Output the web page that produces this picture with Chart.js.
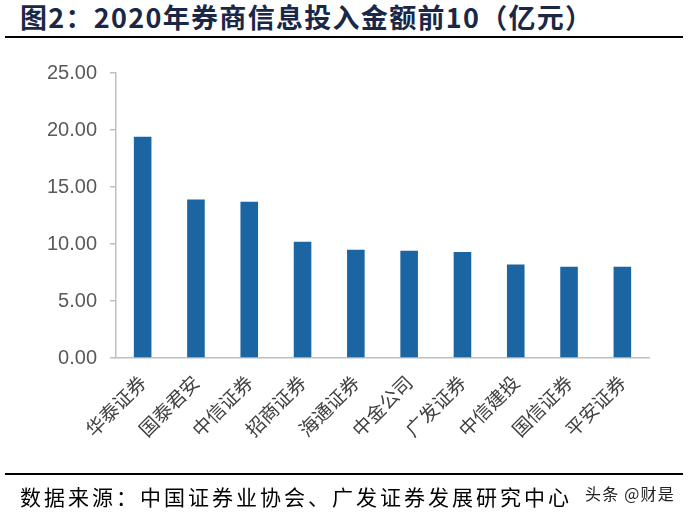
<!DOCTYPE html>
<html>
<head>
<meta charset="utf-8">
<script src="https://cdn.jsdelivr.net/npm/chart.js@4"></script>
<style>
  html, body { margin: 0; padding: 0; background: #fff; }
  body { width: 689px; height: 513px; position: relative; overflow: hidden; font-family: "Noto Sans CJK SC", sans-serif; }
  #title { position: absolute; left: 20px; top: -3px; font-size: 27px; font-weight: bold; color: #1a2747; white-space: nowrap; letter-spacing: 1.3px; }
  .rule { position: absolute; left: 5px; width: 678px; height: 2px; background: #000; }
  #source { position: absolute; left: 20px; top: 481px; font-size: 21px; color: #000; white-space: nowrap; letter-spacing: 3px; }
  #mark { position: absolute; left: 585px; top: 481px; font-size: 16px; color: #222; white-space: nowrap; letter-spacing: 1.2px; }
  #wrap { position: absolute; left: 0; top: 0; width: 689px; height: 513px; }
</style>
</head>
<body>
<div id="title">图2：2020年券商信息投入金额前10（亿元）</div>
<div class="rule" style="top:36px"></div>
<div id="wrap"><canvas id="c"></canvas></div>
<div class="rule" style="top:473px"></div>
<div id="source">数据来源：中国证券业协会、广发证券发展研究中心</div>
<div id="mark">头条 @财是</div>
<script>
const categories = ["华泰证券", "国泰君安", "中信证券", "招商证券", "海通证券", "中金公司", "广发证券", "中信建投", "国信证券", "平安证券"];
const investment = [19.4, 13.9, 13.7, 10.2, 9.5, 9.4, 9.3, 8.2, 8.0, 8.0];
const yTicks = [0, 5, 10, 15, 20, 25];

const axisGray = "#BFBFBF";
new Chart(document.getElementById("c"), {
  type: "bar",
  data: {
    labels: categories,
    datasets: [{
      data: investment,
      backgroundColor: "#1B65A3",
      borderWidth: 0,
      barPercentage: 0.33,
      categoryPercentage: 1.0
    }]
  },
  options: {
    responsive: true,
    maintainAspectRatio: false,
    animation: false,
    devicePixelRatio: 1,
    layout: { padding: { left: 0, right: 40, top: 73, bottom: 0 } },
    plugins: { legend: { display: false }, tooltip: { enabled: false }, title: { display: false } },
    scales: {
      x: {
        offset: true,
        grid: { display: false, drawTicks: false },
        border: { display: true, color: axisGray, width: 1.5 },
        ticks: {
          autoSkip: false, minRotation: 45, maxRotation: 45, padding: 13,
          color: "#404040",
          font: { family: "Noto Sans CJK SC", size: 19 }
        },
        afterFit: (s) => { s.height = 155; }
      },
      y: {
        min: 0, max: 25,
        afterBuildTicks: (s) => { s.ticks = yTicks.map(v => ({ value: v })); },
        grid: { display: true, drawOnChartArea: false, drawTicks: true, tickLength: 6, color: axisGray, lineWidth: 1.5 },
        border: { display: true, color: axisGray, width: 1.5 },
        ticks: {
          padding: 13,
          color: "#595959",
          font: { family: "Liberation Sans", size: 20 },
          callback: (v) => Number(v).toFixed(2)
        },
        afterFit: (s) => { s.width = 116; }
      }
    }
  }
});
</script>
</body>
</html>
